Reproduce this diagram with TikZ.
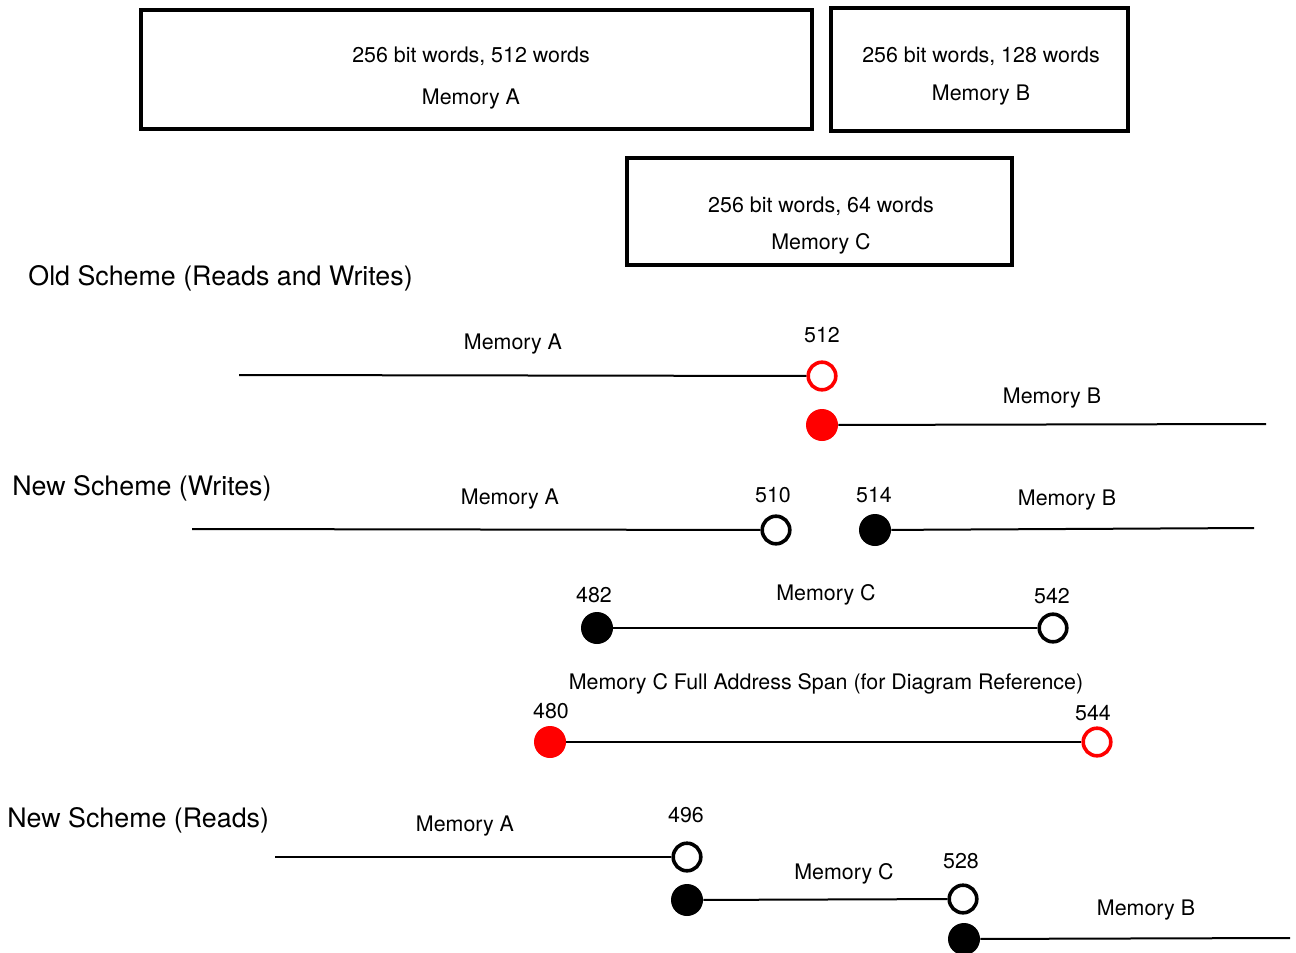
\documentclass[tikz,border=0pt]{standalone}
\usepackage{fontspec}
\setmainfont{TeX Gyre Heros}
\begin{document}
\begin{tikzpicture}[x=0.5pt,y=-0.5pt,
  membox/.style={draw,line width=2pt},
  lbl/.style={font=\fontsize{10.7}{12.8}\selectfont,inner sep=0pt,yshift=-1pt},
  ttl/.style={font=\fontsize{13.4}{16}\selectfont,inner sep=0pt,anchor=west,yshift=-1pt},
  span/.style={line width=1pt},
  openpt/.style={circle,draw,line width=1.8pt,fill=white,minimum size=13.8pt,inner sep=0pt},
  fullpt/.style={circle,fill,minimum size=16pt,inner sep=0pt},
  openred/.style={openpt,draw=red},
  fullred/.style={fullpt,fill=red}]
\useasboundingbox (0,0) rectangle (1296,953);

% memory blocks
\draw[membox] (141,10) rectangle (812,129);
\node[lbl] (boxAw) at (471,54) {256 bit words, 512 words};
\node[lbl] (boxAn) at (471,97) {Memory A};
\draw[membox] (831,8) rectangle (1128,131);
\node[lbl] (boxBw) at (981,54) {256 bit words, 128 words};
\node[lbl] (boxBn) at (981,93) {Memory B};
\draw[membox] (627,158) rectangle (1012,265);
\node[lbl] (boxCw) at (821,204) {256 bit words, 64 words};
\node[lbl] (boxCn) at (821,242) {Memory C};

% old scheme
\node[ttl] (tOld) at (28,276) {Old Scheme (Reads and Writes)};
\coordinate (oAs) at (239,375);
\node[openred] (o512) at (822,376) {};
\draw[span] (oAs) -- (o512);
\node[lbl] at (513,342) {Memory A};
\node[lbl] at (822,333) {512};
\node[fullred] (f512) at (822,425) {};
\coordinate (oBe) at (1266,424);
\draw[span] (f512) -- (oBe);
\node[lbl] at (1052,396) {Memory B};

% new scheme, writes
\node[ttl] (tW) at (12,486) {New Scheme (Writes)};
\coordinate (wAs) at (192,529);
\node[openpt] (o510) at (776,530) {};
\draw[span] (wAs) -- (o510);
\node[lbl] at (510,497) {Memory A};
\node[lbl] at (773,493) {510};
\node[fullpt] (f514) at (875,530) {};
\coordinate (wBe) at (1254,528);
\draw[span] (f514) -- (wBe);
\node[lbl] at (874,493) {514};
\node[lbl] at (1067,498) {Memory B};

\node[fullpt] (f482) at (597,628) {};
\node[openpt] (o542) at (1053,628) {};
\draw[span] (f482) -- (o542);
\node[lbl] at (594,593) {482};
\node[lbl] at (826,593) {Memory C};
\node[lbl] at (1052,594) {542};

% full span of memory C
\node[lbl] at (826,682) {Memory C Full Address Span (for Diagram Reference)};
\node[fullred] (f480) at (550,742) {};
\node[openred] (o544) at (1097,742) {};
\draw[span] (f480) -- (o544);
\node[lbl] at (551,709) {480};
\node[lbl] at (1093,711) {544};

% new scheme, reads
\node[ttl] (tR) at (7,818) {New Scheme (Reads)};
\coordinate (rAs) at (275,857);
\node[openpt] (o496) at (687,857) {};
\draw[span] (rAs) -- (o496);
\node[lbl] at (465,824) {Memory A};
\node[lbl] at (686,813) {496};
\node[fullpt] (f496) at (687,900) {};
\node[openpt] (o528) at (963,899) {};
\draw[span] (f496) -- (o528);
\node[lbl] at (844,872) {Memory C};
\node[lbl] at (961,859) {528};
\node[fullpt] (f528) at (964,939) {};
\coordinate (rBe) at (1290,938);
\draw[span] (f528) -- (rBe);
\node[lbl] at (1146,908) {Memory B};
\end{tikzpicture}
\end{document}
